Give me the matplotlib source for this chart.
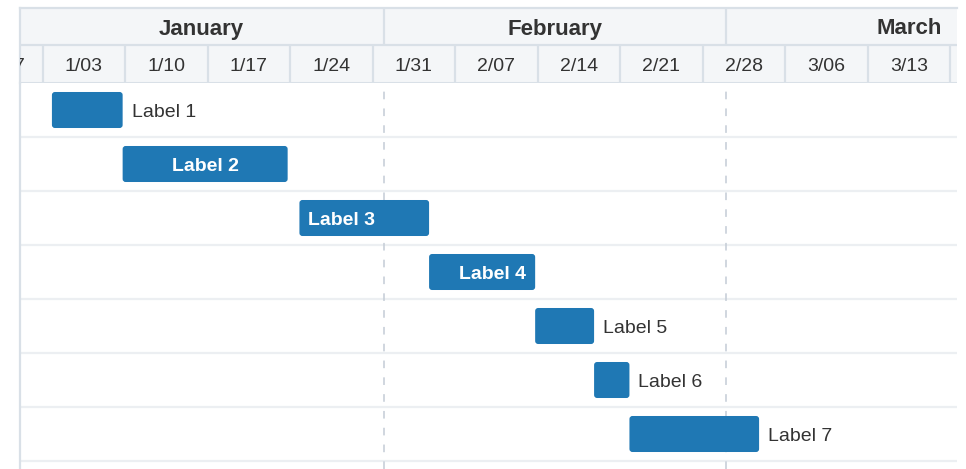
import datetime as dt

import matplotlib
matplotlib.use("Agg")
import matplotlib.pyplot as plt
import matplotlib.dates as mdates
from matplotlib.patches import FancyBboxPatch

# ---- data -------------------------------------------------------------
task_labels = ["Label 1", "Label 2", "Label 3", "Label 4", "Label 5", "Label 6", "Label 7"]
task_starts = ["2016-01-04", "2016-01-10", "2016-01-25", "2016-02-05",
               "2016-02-14", "2016-02-19", "2016-02-22"]
task_ends = ["2016-01-10", "2016-01-24", "2016-02-05", "2016-02-14",
             "2016-02-19", "2016-02-22", "2016-03-04"]
# where each label sits relative to its bar
label_modes = ["outside", "center", "left", "right", "outside", "outside", "outside"]

week_starts = ["2015-12-27", "2016-01-03", "2016-01-10", "2016-01-17", "2016-01-24",
               "2016-01-31", "2016-02-07", "2016-02-14", "2016-02-21", "2016-02-28",
               "2016-03-06", "2016-03-13", "2016-03-20"]
week_labels = ["12/27", "1/03", "1/10", "1/17", "1/24", "1/31", "2/07", "2/14",
               "2/21", "2/28", "3/06", "3/13", "3/20"]
month_names = ["January", "February", "March"]
month_starts = ["2016-01-01", "2016-02-01", "2016-03-01"]
month_ends = ["2016-02-01", "2016-03-01", "2016-04-01"]

# task dates are stored as UTC midnights; the timeline is shown in local time
utc_offset_hours = -5

view_start = dt.datetime(2016, 1, 1, 2)
view_end = dt.datetime(2016, 3, 20, 14)

# ---- style ------------------------------------------------------------
plt.rcParams["font.family"] = ["Liberation Sans", "DejaVu Sans"]
BAR = "#1f78b4"
TEXT = "#333333"
HEADER_BG = "#f4f6f8"
HEADER_LINE = "#d9e0e7"
ROW_LINE = "#eceff2"
DASH = "#c4ccd6"

W, H = 966, 469
fig = plt.figure(figsize=(W / 100, H / 100), dpi=100)
fig.patch.set_facecolor("white")

left_px, right_px = 20, 957
header_top, header_mid, header_bot = 8, 45, 83
row_px = 54
n_rows = len(task_labels)
text_drop = -1.8  # points: nudges labels down onto the visual centre line


def fx(px):
    return px / W


def fy(px):
    return 1 - px / H


def d(s, shift_hours=0):
    t = dt.datetime.strptime(s, "%Y-%m-%d") + dt.timedelta(hours=shift_hours)
    return mdates.date2num(t)


x0, x1 = mdates.date2num(view_start), mdates.date2num(view_end)

# ---- body -------------------------------------------------------------
body_bottom_px = H
ax = fig.add_axes([fx(left_px), fy(body_bottom_px), fx(right_px - left_px),
                   (body_bottom_px - header_bot) / H])
ax.set_xlim(x0, x1)
extra = (body_bottom_px - header_bot) / row_px - n_rows
ax.set_ylim(n_rows + extra, 0)
ax.set_xticks([])
ax.set_yticks([])
for side in ("top", "right", "bottom"):
    ax.spines[side].set_visible(False)
ax.spines["left"].set_color(HEADER_LINE)
ax.spines["left"].set_linewidth(1.6)

for i in range(1, n_rows + 1):
    ax.axhline(i, color=ROW_LINE, lw=1.6, zorder=1)

for ms in month_starts[1:]:
    ax.axvline(d(ms), color=DASH, lw=1.1, ls=(0, (5, 6)), zorder=1)

bar_h = 0.667
days_per_px = (x1 - x0) / (right_px - left_px)
round_days = 3 * days_per_px
aspect = (1 / row_px) / days_per_px

for i, (lab, s, e, mode) in enumerate(zip(task_labels, task_starts, task_ends, label_modes)):
    xs, xe = d(s, utc_offset_hours), d(e, utc_offset_hours)
    yc = i + 0.5
    box = FancyBboxPatch((xs, yc - bar_h / 2), xe - xs, bar_h,
                         boxstyle=f"round,pad=0,rounding_size={round_days}",
                         mutation_aspect=aspect, facecolor=BAR, edgecolor="none",
                         zorder=3)
    ax.add_patch(box)
    if mode == "outside":
        ax.annotate(lab, xy=(xe, yc), xytext=(6.5, text_drop), textcoords="offset points",
                    ha="left", va="center", fontsize=14, color=TEXT, zorder=4)
    elif mode == "center":
        ax.annotate(lab, xy=((xs + xe) / 2, yc), xytext=(0, text_drop),
                    textcoords="offset points", ha="center", va="center", fontsize=14,
                    fontweight="bold", color="white", zorder=4)
    elif mode == "left":
        ax.annotate(lab, xy=(xs, yc), xytext=(6.5, text_drop), textcoords="offset points",
                    ha="left", va="center", fontsize=14, fontweight="bold",
                    color="white", zorder=4)
    else:
        ax.annotate(lab, xy=(xe, yc), xytext=(-6.5, text_drop), textcoords="offset points",
                    ha="right", va="center", fontsize=14, fontweight="bold",
                    color="white", zorder=4)

# ---- timeline header ----------------------------------------------------
hx = fig.add_axes([fx(left_px), fy(header_bot), fx(right_px - left_px),
                   (header_bot - header_top) / H], sharex=ax)
hx.set_facecolor(HEADER_BG)
hx.set_xlim(x0, x1)
hx.set_ylim(header_bot - header_top, 0)
hx.set_xticks([])
hx.set_yticks([])
for side in ("right", "bottom"):
    hx.spines[side].set_visible(False)
for side in ("top", "left"):
    hx.spines[side].set_color(HEADER_LINE)
    hx.spines[side].set_linewidth(1.6)

mid = header_mid - header_top
full = header_bot - header_top
hx.axhline(mid, color=HEADER_LINE, lw=1.6)
hx.axhline(full, color=HEADER_LINE, lw=2.2)

for name, ms, me in zip(month_names, month_starts, month_ends):
    a, b = d(ms), d(me)
    if a > x0:
        hx.vlines(a, 0, mid, color=HEADER_LINE, lw=1.6)
    hx.annotate(name, xy=((a + b) / 2, mid / 2), xytext=(0, text_drop),
                textcoords="offset points", ha="center", va="center",
                fontsize=16, fontweight="bold", color=TEXT, annotation_clip=False,
                clip_on=True)

for ws, wl in zip(week_starts, week_labels):
    a = d(ws)
    if a > x0:
        hx.vlines(a, mid, full, color=HEADER_LINE, lw=1.6)
    if a + 2 > x1:
        continue  # cell barely enters the view; its label would be fully hidden
    hx.annotate(wl, xy=(a + 3.5, (mid + full) / 2), xytext=(0, text_drop),
                textcoords="offset points", ha="center", va="center",
                fontsize=14, color=TEXT, annotation_clip=False, clip_on=True)

fig.savefig("out.png", dpi=100, facecolor="white")
